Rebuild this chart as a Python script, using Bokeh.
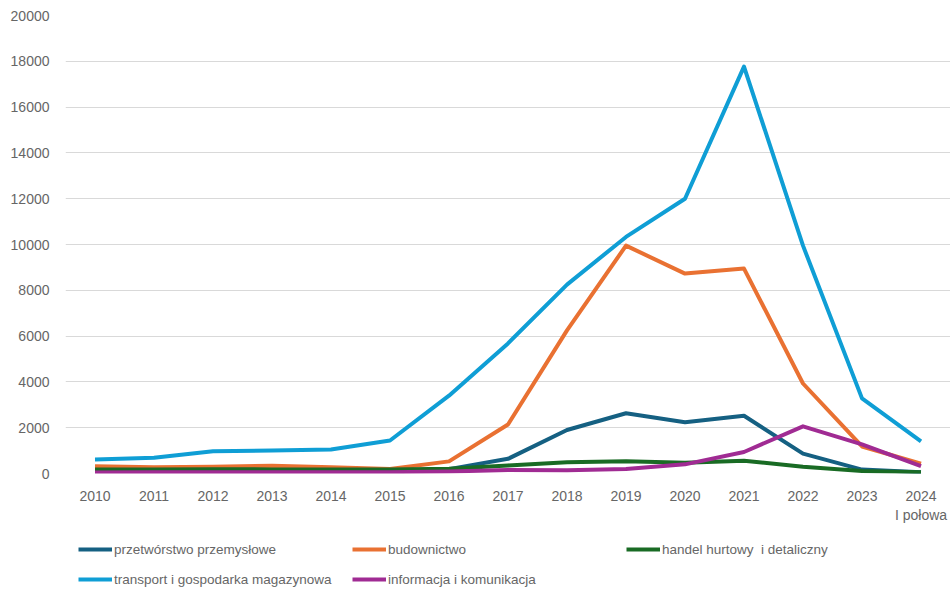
from bokeh.plotting import figure
from bokeh.models import Legend, LegendItem, FactorRange, FixedTicker
from bokeh.layouts import column
from bokeh.embed import file_html
from bokeh.resources import INLINE

years = ["2010", "2011", "2012", "2013", "2014", "2015", "2016", "2017",
         "2018", "2019", "2020", "2021", "2022", "2023", "2024\nI połowa"]

przetworstwo = [110, 130, 150, 140, 130, 120, 190, 640, 1900, 2630, 2240, 2520, 870, 170, 60]
budownictwo = [320, 270, 300, 340, 270, 200, 530, 2140, 6250, 9950, 8730, 8950, 3930, 1180, 430]
handel = [170, 180, 190, 180, 180, 170, 210, 350, 490, 530, 470, 560, 290, 110, 60]
transport = [610, 690, 970, 1000, 1050, 1440, 3400, 5680, 8250, 10330, 12000, 17770, 9950, 3280, 1400]
informacja = [40, 50, 60, 50, 50, 60, 90, 150, 140, 200, 400, 940, 2060, 1270, 320]

names = ["przetwórstwo przemysłowe", "budownictwo", "handel hurtowy  i detaliczny",
         "transport i gospodarka magazynowa", "informacja i komunikacja"]
colors = ["#156082", "#E97132", "#196B24", "#0F9ED5", "#A02B93"]
series = [przetworstwo, budownictwo, handel, transport, informacja]
y_ticks = list(range(0, 20001, 2000))

LW = 4

p = figure(width=950, height=525, x_range=FactorRange(*years, range_padding=0),
           y_range=(0, 20000), output_backend="svg", toolbar_location=None,
           min_border_left=65, min_border_right=0, min_border_top=15,
           min_border_bottom=52, background_fill_color="white",
           border_fill_color="white", outline_line_color=None)

for name, col, vals in zip(names, colors, series):
    p.line(years, vals, line_color=col, line_width=LW, line_join="round")

p.yaxis.ticker = FixedTicker(ticks=y_ticks)
p.ygrid.ticker = FixedTicker(ticks=y_ticks)
p.ygrid.grid_line_color = "#d9d9d9"
p.ygrid.grid_line_width = 1
p.xgrid.grid_line_color = None

for ax in (p.xaxis[0], p.yaxis[0]):
    ax.axis_line_color = None
    ax.major_tick_line_color = None
    ax.minor_tick_line_color = None
    ax.major_tick_out = 0
    ax.major_tick_in = 0
    ax.minor_tick_out = 0
    ax.minor_tick_in = 0
    ax.major_label_text_color = "#666666"
    ax.major_label_text_font = "Liberation Sans"
    ax.major_label_text_font_size = "14px"
p.yaxis.major_label_standoff = 16
p.xaxis.major_label_standoff = 14

# legend panel (frame aligned with main plot frame)
lg = figure(width=950, height=64, output_backend="svg", toolbar_location=None,
            min_border_left=65, min_border_right=0, min_border_top=16,
            min_border_bottom=0, x_axis_type=None, y_axis_type=None,
            outline_line_color=None, background_fill_color="white",
            border_fill_color="white", x_range=(0, 1), y_range=(0, 1))
lg.xgrid.visible = False
lg.ygrid.visible = False
items = []
for name, col in zip(names, colors):
    r = lg.line([5, 6], [5, 6], line_color=col, line_width=LW)
    items.append(LegendItem(label=name, renderers=[r]))

legend = Legend(items=items, orientation="horizontal", ncols=3,
                label_text_font="Liberation Sans", label_text_font_size="13.5px",
                label_text_color="#666666", glyph_width=34, glyph_height=16,
                label_standoff=2, label_width=224, label_height=16, spacing=14,
                padding=0, margin=0, border_line_color=None,
                background_fill_alpha=0, location=(13, 2))
lg.add_layout(legend, "center")

layout = column(p, lg, spacing=0)
open("out.html", "w").write(file_html(layout, INLINE))
